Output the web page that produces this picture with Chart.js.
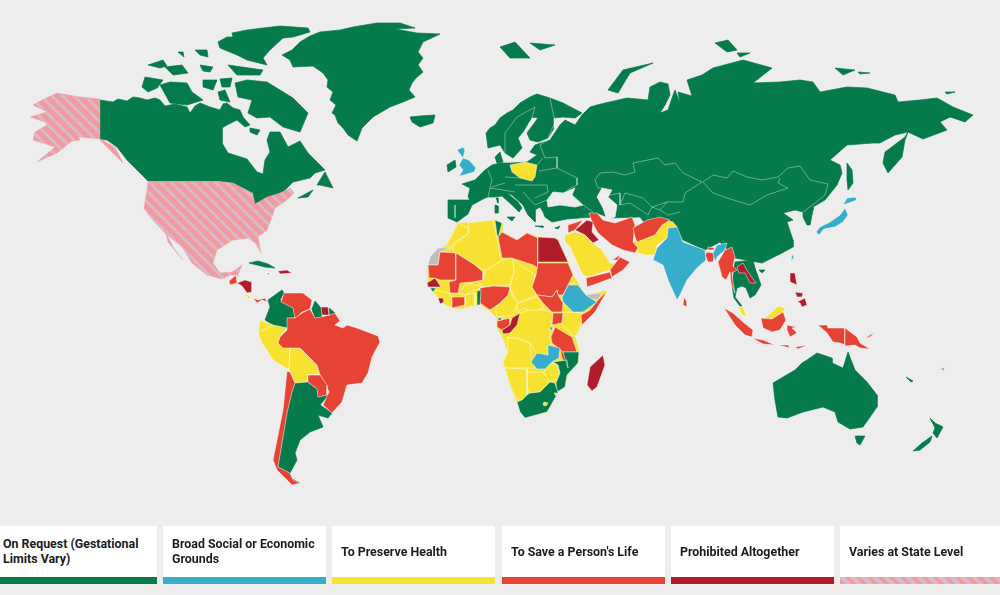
<!DOCTYPE html>
<html>
<head>
<meta charset="utf-8">
<title>Abortion laws map</title>
<script src="https://cdn.jsdelivr.net/npm/chart.js@4"></script>
<style>
    html, body { margin:0; padding:0; background:#ededed; }
    #wrap { position:relative; width:1000px; height:595px; overflow:hidden; }
    #map { position:absolute; left:0; top:0; }
    .key { position:absolute; top:526px; height:58px; background:#fff; display:flex; align-items:center; box-sizing:border-box; padding:0 4px 8px 9px;
           font:bold 12.4px/15px Roboto, sans-serif; color:#1c1c22; }
    .key i { position:absolute; left:0; right:0; bottom:0; height:7px; }
</style>
</head>
<body>
<div id="wrap"><canvas id="map" width="1000" height="595"></canvas></div>
<script>
// outlines as [x, y] map units
const greenland = [[282,55],[292,50],[300,42],[310,36],[320,32],[340,30],[353,27],[377,23],[400,23],[415,28],[395,29],[417,33],[440,34],[423,42],[418,52],[423,58],[418,65],[423,72],[416,78],[412,83],[409,90],[415,97],[403,102],[390,107],[373,117],[362,128],[357,141],[348,135],[343,128],[338,123],[335,115],[332,113],[336,105],[330,100],[333,92],[327,87],[328,80],[323,73],[313,66],[293,67],[290,60]];
const canada = [[100,100],[113,102],[118,99],[127,101],[133,97],[140,98],[147,100],[155,98],[160,100],[165,106],[175,104],[187,107],[190,113],[195,106],[200,103],[210,107],[220,110],[223,104],[227,103],[233,108],[240,110],[243,117],[250,125],[245,127],[237,120],[227,125],[222,128],[222,143],[228,153],[247,159],[257,172],[263,174],[265,160],[270,152],[267,140],[270,132],[280,132],[288,147],[300,141],[308,153],[325,170],[315,173],[310,178],[293,182],[283,192],[273,197],[255,204],[253,193],[233,183],[220,181],[148,181],[140,173],[127,160],[117,147],[107,140],[100,139]];
const newfoundland = [[317,185],[325,172],[333,188],[320,185]];
const novaScotia = [[298,198],[313,190],[308,197]];
const ellesmere = [[218,42],[227,37],[233,37],[232,33],[247,30],[263,28],[280,26],[308,28],[310,32],[293,37],[283,38],[270,50],[263,58],[267,65],[247,60],[237,55],[220,48]];
const devon = [[228,65],[263,70],[260,75],[237,75]];
const victoria = [[160,85],[170,82],[187,83],[192,92],[203,100],[187,105],[170,103]];
const banks = [[142,87],[145,77],[163,80],[157,88],[148,92]];
const melville = [[148,65],[163,60],[167,66],[160,68]];
const bathurst = [[165,67],[182,65],[188,73],[173,75]];
const cornwallis = [[200,65],[213,67],[210,72],[203,71]];
const ellefRingnes = [[195,50],[207,50],[208,57],[200,55]];
const amund = [[178,52],[183,52],[184,57]];
const somerset = [[203,80],[217,80],[213,90],[203,87]];
const boothia = [[220,79],[232,78],[230,87],[222,87]];
const kingWilliam = [[218,92],[225,90],[230,102],[220,100]];
const baffin = [[235,83],[247,80],[267,82],[280,90],[293,98],[308,113],[300,132],[283,127],[270,117],[257,118],[248,113],[252,100],[238,97]];
const southampton = [[250,128],[260,130],[257,135],[250,132]];
const iceland = [[410,117],[420,116],[435,115],[433,123],[420,127],[412,122]];
const eurasia = [[448,200],[470,200],[468,197],[470,188],[462,184],[475,180],[485,170],[492,165],[500,163],[512,163],[527,162],[537,155],[530,152],[535,145],[550,140],[560,125],[565,120],[575,125],[582,115],[590,107],[597,105],[605,103],[627,98],[648,100],[650,87],[660,82],[668,84],[670,95],[665,105],[660,113],[668,110],[672,98],[675,90],[680,103],[678,92],[692,96],[687,80],[702,75],[713,68],[743,60],[772,68],[753,83],[780,82],[800,80],[813,82],[820,92],[847,87],[867,88],[895,95],[898,102],[920,100],[937,98],[953,107],[973,115],[965,122],[950,117],[940,122],[947,130],[923,139],[908,132],[905,140],[902,157],[888,173],[883,163],[885,152],[905,137],[908,132],[895,135],[880,143],[873,143],[847,145],[830,160],[840,165],[842,173],[837,185],[825,200],[813,207],[813,210],[810,225],[807,225],[803,217],[803,212],[795,210],[783,213],[793,220],[787,222],[793,240],[793,247],[782,253],[762,263],[735,258],[720,242],[705,250],[683,240],[675,228],[650,230],[640,217],[610,218],[597,213],[592,217],[567,219],[552,222],[545,217],[543,212],[540,207],[535,210],[535,222],[528,215],[523,205],[512,195],[507,193],[518,202],[522,208],[519,212],[512,205],[502,196],[495,197],[488,197],[485,198],[472,205],[468,214],[457,222],[448,218]];
const scandinavia = [[486,133],[490,128],[495,125],[500,118],[507,113],[513,110],[520,103],[530,97],[537,94],[550,98],[563,103],[582,113],[575,118],[563,117],[553,118],[553,130],[548,138],[538,142],[530,140],[527,133],[538,118],[532,117],[523,132],[518,138],[522,148],[513,158],[505,153],[500,145],[488,148]];
const denmark = [[495,157],[500,152],[503,162],[497,163]];
const ireland = [[447,165],[455,160],[456,167],[448,172]];
const sicily = [[507,217],[515,217],[512,221]];
const sardinia = [[495,205],[498,206],[498,213],[495,213]];
const corsica = [[496,198],[498,198],[498,203]];
const crete = [[535,226],[543,226],[543,227.5]];
const cyprus = [[555,228],[560,226],[558,229]];
const svalbard = [[500,47],[515,42],[530,58],[510,58]];
const svalbardEast = [[530,43],[555,45],[540,50]];
const novaya = [[608,90],[623,70],[653,63],[630,73],[618,93]];
const sevZemlya = [[715,43],[728,40],[737,50],[727,52]];
const sevZemlyaSouth = [[737,53],[750,53],[740,57]];
const newSiberia = [[835,68],[855,70],[843,75]];
const newSiberiaEast = [[858,72],[870,73],[860,74]];
const wrangel = [[945,92],[955,92],[947,94]];
const sakhalin = [[847,163],[852,170],[853,183],[848,190],[847,180]];
const hainan = [[759,270],[765,270],[762,273]];
const indochina = [[735,262],[753,260],[755,268],[761,285],[755,295],[750,298],[746,288],[742,286],[737,288],[735,297],[742,306],[740,306],[734,298],[732,285]];
const australia = [[773,383],[795,370],[802,363],[807,360],[817,353],[832,358],[832,363],[843,368],[848,352],[855,370],[867,382],[877,395],[877,407],[863,427],[850,429],[838,422],[835,412],[823,407],[803,412],[787,418],[778,417],[775,400]];
const tasmania = [[855,436],[865,436],[860,445],[857,443]];
const nzNorth = [[930,418],[935,423],[943,427],[937,438],[933,433],[935,428]];
const nzSouth = [[932,436],[930,442],[920,450],[913,451],[922,443]];
const vanuatu = [[906,377],[913,381],[911,382]];
const cuba = [[249,263],[258,261],[268,264],[275,268],[265,267],[257,265]];
const colombia = [[282,290],[284,293],[280,300],[293,308],[295,317],[287,318],[287,328],[273,325],[265,320],[270,307],[268,300]];
const guyana = [[315,301],[321,308],[321,317],[315,318],[312,309]];
const frGuiana = [[329,308],[335,313],[330,316]];
const argentina = [[295,383],[307,382],[317,389],[318,397],[327,395],[330,393],[320,405],[318,415],[323,427],[310,432],[300,440],[295,453],[297,460],[290,473],[278,467],[287,413],[292,392]];
const uruguay = [[320,405],[332,413],[328,418],[318,415]];
const tierra = [[292,479],[300,483],[293,482]];
const tunisia = [[495,220],[502,223],[498,238],[497,235]];
const guineaBissau = [[430,288],[436,288],[433,292]];
const togo = [[477,291],[481,290],[480,305],[477,305]];
const eqGuinea = [[498,318],[502,318],[502,320],[498,320]];
const mozambique = [[563,352],[579,352],[578,363],[567,375],[565,387],[557,392],[556,383],[560,373],[558,365],[553,362],[567,360],[568,368]];
const southAfrica = [[517,402],[522,400],[527,395],[530,393],[540,392],[550,382],[555,383],[558,393],[547,412],[525,418],[520,412]];

const uk = [[457,150],[463,147],[465,150],[463,158],[469,160],[476,168],[474,172],[464,175],[459,176],[463,170],[459,165],[463,158]];
const india = [[668,228],[677,227],[683,242],[705,250],[706,260],[697,268],[687,280],[680,295],[677,300],[668,280],[663,265],[653,260],[657,248],[667,238]];
const neIndia = [[713,253],[717,245],[727,243],[725,250],[717,257],[715,262]];
const hokkaido = [[847,198],[855,197],[857,200],[843,205]];
const honshu = [[845,208],[848,215],[843,222],[835,227],[824,229],[819,235],[816,232],[820,227],[830,222],[840,215]];
const taiwan = [[792,254],[794,257],[791,262]];
const ethiopia = [[568,285],[578,285],[586,295],[592,299],[597,302],[583,312],[573,312],[563,302],[562,298]];
const zambia = [[548,345],[560,348],[559,358],[552,362],[545,369],[537,369],[531,362],[537,353],[548,355]];
const rwanda = [[550,327],[553,327],[553,330],[550,330]];
const belize = [[237,275],[239,275],[238,279]];
const fiji = [[941,369],[945,367],[943,371]];

const africaLand = [[458,223],[468,223],[495,220],[502,223],[502,232],[517,240],[527,233],[538,237],[555,238],[558,240],[568,262],[573,275],[585,295],[607,291],[598,305],[582,325],[575,337],[579,352],[578,363],[567,375],[565,387],[557,392],[547,412],[525,418],[517,402],[510,385],[505,368],[503,362],[508,352],[504,340],[497,327],[497,318],[490,311],[480,304],[465,308],[453,308],[445,305],[438,298],[432,290],[428,283],[428,265],[438,250],[447,245]];
const poland = [[510,165],[525,162],[537,165],[535,177],[532,181],[520,178],[512,172]];
const morocco = [[447,245],[458,223],[468,228],[469,233],[455,242],[452,247]];
const algeria = [[468,223],[493,220],[497,238],[500,258],[503,260],[485,271],[475,265],[455,253],[452,247],[469,233]];
const niger = [[485,271],[503,260],[513,258],[514,272],[510,285],[493,285],[483,287],[477,280],[483,280]];
const chad = [[513,260],[535,275],[535,282],[532,287],[537,295],[530,298],[517,303],[510,287],[514,272]];
const guinea = [[432,290],[450,293],[453,308],[445,305],[438,298]];
const burkina = [[458,293],[468,283],[483,287],[475,290],[465,295]];
const ghana = [[465,295],[475,293],[475,305],[465,308]];
const cameroon = [[510,287],[512,295],[518,303],[513,315],[497,317],[495,308],[505,298]];
const car = [[517,303],[537,297],[544,308],[532,312],[523,308],[518,313]];
const drc = [[520,313],[530,310],[545,310],[553,313],[552,325],[549,337],[551,343],[548,355],[537,355],[530,343],[517,338],[507,338],[512,332]];
const angola = [[507,338],[517,338],[530,343],[531,360],[537,368],[505,368],[503,362],[508,352]];
const kenya = [[563,312],[583,313],[580,327],[575,337],[562,325]];
const eritrea = [[570,277],[575,283],[568,284]];
const zimbabwe = [[545,369],[552,363],[558,365],[559,378],[550,382],[543,375]];
const botswana = [[527,372],[543,372],[550,382],[540,392],[530,393],[527,388]];
const namibia = [[505,368],[527,369],[527,395],[522,400],[517,400],[510,385]];
const lesotho = [[544,402],[548,403],[546,406],[543,405]];
const eswatini = [[554,393],[557,393],[556,396]];
const saudi = [[565,235],[575,232],[585,235],[593,243],[602,250],[610,263],[618,263],[610,270],[588,277],[583,275],[577,263],[570,247],[564,240]];
const pakistan = [[665,220],[673,222],[677,227],[668,228],[667,238],[657,245],[655,255],[645,255],[637,253],[638,248],[633,242],[655,235],[662,225]];
const ecuador = [[260,320],[273,325],[265,333],[258,333]];
const peru = [[273,325],[287,328],[280,337],[278,343],[290,348],[289,370],[273,360],[262,343],[258,333]];
const bolivia = [[290,348],[300,348],[317,365],[320,374],[308,375],[307,382],[295,383],[289,370]];
const costaRica = [[245,293],[252,298],[248,299]];
const puertoRico = [[295,273],[298,273],[298,275]];
const malaysia = [[738,307],[743,307],[747,317],[742,315]];
const sarawak = [[763,319],[772,312],[778,306],[786,308],[783,312],[772,319]];

const libya = [[498,237],[502,232],[517,240],[527,233],[538,238],[538,268],[533,265],[512,258],[502,258]];
const mauritania = [[428,265],[438,265],[440,252],[456,253],[456,280],[450,280],[440,280],[435,278],[429,278]];
const mali = [[456,253],[475,265],[483,272],[483,280],[472,282],[460,283],[458,293],[450,293],[449,282],[456,280]];
const sudan = [[538,263],[568,263],[573,275],[568,285],[563,295],[558,295],[557,290],[552,297],[537,295],[532,287],[536,275]];
const southSudan = [[537,295],[552,297],[557,290],[558,295],[563,303],[562,312],[552,312],[543,303]];
const coteDivoire = [[452,297],[465,297],[465,305],[452,308]];
const nigeria = [[480,288],[493,286],[510,287],[508,295],[500,303],[490,310],[480,303]];
const gabon = [[497,321],[510,318],[510,325],[502,330],[497,327]];
const malawi = [[560,348],[567,358],[567,367],[562,358]];
const tanzania = [[551,337],[555,327],[572,337],[577,352],[563,352],[552,343]];
const uganda = [[553,313],[563,313],[562,323],[552,325]];
const somalia = [[607,291],[595,312],[582,325],[581,315],[590,310],[598,300]];
const syria = [[568,225],[583,220],[575,230],[568,233]];
const iran = [[589,213],[597,213],[603,220],[615,223],[632,217],[635,225],[633,242],[638,248],[635,253],[623,250],[612,245],[598,233],[592,222]];
const afghanistan = [[633,228],[647,220],[660,217],[670,220],[662,225],[655,235],[637,242],[635,237]];
const bangladesh = [[707,252],[715,253],[713,262],[708,262],[705,255]];
const bhutan = [[708,247],[715,248],[713,250],[708,250]];
const sriLanka = [[684,297],[687,302],[687,307],[683,305]];
const yemen = [[586,278],[610,272],[612,278],[593,285],[587,287]];
const oman = [[610,270],[620,257],[630,262],[623,270],[612,277]];
const uae = [[612,260],[620,255],[618,260]];
const myanmar = [[718,262],[725,250],[732,247],[735,257],[733,266],[737,270],[732,273],[733,282],[735,293],[731,283],[730,272],[726,280],[722,277]];
const sumatra = [[724,308],[733,313],[743,322],[753,330],[752,337],[745,335],[735,325]];
const kalimantan = [[761,318],[772,319],[783,312],[786,320],[780,330],[772,332],[763,328]];
const sulawesi = [[787,325],[797,327],[792,328],[797,333],[790,337],[787,330]];
const java = [[752,338],[763,340],[775,345],[763,344]];
const sunda = [[778,345],[788,345],[790,348]];
const timor = [[795,347],[808,345],[798,349]];
const westPapua = [[818,325],[827,325],[828,328],[845,328],[845,345],[840,343],[833,342],[827,333]];
const png = [[845,328],[857,337],[860,343],[870,349],[860,348],[855,345],[845,346]];
const newBritain = [[865,338],[875,332],[870,337]];
const venezuela = [[284,293],[290,293],[303,293],[312,300],[310,309],[302,312],[295,319],[293,308],[281,302]];
const brazil = [[287,318],[295,318],[302,313],[310,309],[315,318],[321,317],[330,315],[335,313],[340,321],[335,325],[343,328],[347,325],[357,328],[378,336],[380,342],[372,357],[368,373],[362,383],[347,385],[342,402],[332,413],[323,405],[329,392],[325,383],[320,375],[317,365],[300,348],[290,348],[283,348],[278,343],[280,337],[287,330]];
const paraguay = [[308,375],[320,375],[327,385],[327,395],[318,397],[317,389],[308,382]];
const chile = [[287,371],[290,372],[295,383],[292,392],[287,413],[278,467],[290,473],[293,480],[300,483],[292,485],[277,470],[273,460],[277,440],[283,410]];
const guatemala = [[229,281],[236,275],[237,283],[230,285]];
const panama = [[253,298],[258,300],[265,298],[267,302],[262,300],[257,303]];
const jamaica = [[266,273],[270,273],[270,275]];

const egypt = [[538,237],[555,238],[558,240],[568,262],[538,262]];
const iraq = [[575,230],[587,220],[593,222],[592,232],[599,240],[593,243],[585,235]];
const senegal = [[427,283],[435,278],[441,287],[428,287]];
const sierraLeone = [[438,298],[443,298],[444,302],[440,304]];
const congo = [[520,313],[517,325],[510,333],[503,334],[502,330],[510,325],[512,318]];
const madagascar = [[603,355],[605,365],[597,387],[592,391],[587,385],[590,367]];
const honduras = [[237,283],[245,280],[252,282],[252,292],[247,293],[242,286]];
const hispaniola = [[278,271],[287,270],[292,273],[280,274]];
const suriname = [[321,307],[328,307],[329,315],[322,315]];
const laos = [[737,267],[743,263],[748,272],[756,283],[750,283],[745,273],[739,273]];
const luzon = [[790,273],[795,273],[796,280],[797,285],[790,282]];
const visayas = [[795,292],[803,293],[802,297],[797,297]];
const mindanao = [[797,302],[805,298],[807,305],[802,307],[800,303]];

const alaska = [[100,99],[80,97],[57,93],[42,100],[33,105],[47,112],[30,117],[45,122],[47,125],[35,132],[33,140],[55,147],[37,162],[57,153],[72,141],[80,140],[78,137],[100,139],[115,147],[123,163],[117,157],[107,147],[100,140]];
const usa = [[148,182],[220,182],[233,183],[252,193],[255,204],[267,197],[280,193],[290,188],[294,193],[287,200],[275,208],[272,217],[267,230],[258,237],[261,253],[255,243],[248,238],[233,240],[217,250],[208,243],[197,237],[177,237],[165,233],[150,217],[144,208],[147,190]];
const mexico = [[165,233],[177,237],[197,237],[208,243],[217,250],[213,263],[220,273],[232,272],[242,265],[238,275],[230,275],[222,279],[207,275],[192,263],[182,247],[167,235]];
const baja = [[166,233],[173,247],[183,260],[177,253],[168,242]];

const westSahara = [[428,265],[430,257],[438,248],[450,248],[440,252],[438,265]];
const somaliland = [[585,295],[602,293],[598,300],[592,299]];

const caspian = [[597,197],[602,188],[612,190],[608,197],[617,205],[615,217],[607,220],[603,208]];
const blackSea = [[547,200],[553,192],[563,193],[575,188],[572,195],[583,205],[575,207],[560,205],[548,207]];

// thin borders between the green countries
const kazNorth = [[595,180],[600,173],[613,172],[625,175],[635,172],[633,163],[658,158],[665,165],[675,163],[683,173],[702,182]];
const kazSouth = [[595,180],[598,188],[603,188],[600,197],[620,193],[620,205],[625,193],[643,198],[652,207],[667,202],[683,202],[685,193],[702,182]];
const mongoliaNorth = [[703,182],[713,175],[727,178],[733,171],[747,177],[762,180],[778,177],[788,168],[800,166],[810,180],[828,184],[825,195],[815,203],[803,212]];
const mongoliaSouth = [[703,182],[713,193],[727,198],[750,205],[767,195],[788,188],[778,183],[780,178]];
const turkmen = [[620,205],[630,203],[648,215],[652,207],[660,210],[667,202]];
const tajik = [[660,210],[668,215],[680,212]];
const norwaySweden = [[505,153],[505,133],[517,117],[535,107]];
const swedenFinland = [[532,117],[535,107]];
const finlandRussia = [[550,98],[555,122],[548,138]];
const russiaWest = [[548,140],[540,145],[545,158],[557,157],[557,168],[577,178],[577,185],[567,190]];
const belarus = [[537,165],[543,158]];
const belarusSouth = [[539,171],[557,168]];
const franceGermany = [[488,170],[492,180],[490,188],[488,197]];
const pyrenees = [[453,198],[468,198]];
const portugal = [[455,205],[455,218]];
const germanySouth = [[505,177],[520,178]];
const alps = [[490,188],[515,192]];
const austria = [[492,187],[505,183]];
const balkansNorth = [[515,185],[547,185],[548,192],[535,198]];
const balkansWest = [[523,192],[535,205]];
const balkansEast = [[547,200],[535,205]];
const turkeyEast = [[583,205],[593,212]];

// legend
const legendLabels = ['On Request (Gestational Limits Vary)', 'Broad Social or Economic Grounds', 'To Preserve Health', "To Save a Person's Life", 'Prohibited Altogether', 'Varies at State Level'];
const legendLefts = [-6, 163, 332, 502, 671, 840];
const legendWidths = [163, 163, 163, 163, 163, 163];

const onRequest = [greenland, canada, newfoundland, novaScotia, ellesmere, devon, victoria, banks, melville, bathurst, cornwallis, ellefRingnes, amund, somerset, boothia, kingWilliam, baffin, southampton, iceland, eurasia, scandinavia, denmark, ireland, sicily, sardinia, corsica, crete, cyprus, svalbard, svalbardEast, novaya, sevZemlya, sevZemlyaSouth, newSiberia, newSiberiaEast, wrangel, sakhalin, hainan, indochina, australia, tasmania, nzNorth, nzSouth, vanuatu, cuba, colombia, guyana, frGuiana, argentina, uruguay, tierra];
const onRequestTop = [tunisia, guineaBissau, togo, eqGuinea, mozambique, southAfrica];
const broadGrounds = [uk, india, neIndia, hokkaido, honshu, taiwan, ethiopia, zambia, rwanda, belize, fiji];
const preserveHealth = [africaLand, poland, morocco, algeria, niger, chad, guinea, burkina, ghana, cameroon, car, drc, angola, kenya, eritrea, zimbabwe, botswana, namibia, saudi, pakistan, ecuador, peru, bolivia, costaRica, puertoRico, malaysia, sarawak];
const preserveHealthTop = [lesotho, eswatini];
const saveLife = [libya, mauritania, mali, sudan, southSudan, coteDivoire, nigeria, gabon, malawi, tanzania, uganda, somalia, syria, iran, afghanistan, bangladesh, bhutan, sriLanka, yemen, oman, uae, myanmar, sumatra, kalimantan, sulawesi, java, sunda, timor, westPapua, png, newBritain, venezuela, brazil, paraguay, chile, guatemala, panama, jamaica];
const prohibited = [egypt, iraq, senegal, sierraLeone, congo, madagascar, honduras, hispaniola, suriname, laos, luzon, visayas, mindanao];
const stateLevel = [alaska, usa, mexico, baja];
const noData = [westSahara, somaliland];
const waters = [caspian, blackSea];
const greenBorders = [kazNorth, kazSouth, mongoliaNorth, mongoliaSouth, turkmen, tajik, norwaySweden, swedenFinland, finlandRussia, russiaWest, belarus, belarusSouth, franceGermany, pyrenees, portugal, germanySouth, alps, austria, balkansNorth, balkansWest, balkansEast, turkeyEast];

const GREEN = '#057a4b', BLUE = '#36aecb', YELLOW = '#f7e131', RED = '#e64334', DARK = '#b01c2a', GREY = '#bdbdbd', SEA = '#ededed';

function hatchPattern(){
    const size = 11;
    const c = document.createElement('canvas');
    c.width = size; c.height = size;
    const g = c.getContext('2d');
    g.fillStyle = '#f29a9e';
    g.fillRect(0,0,size,size);
    g.strokeStyle = '#d4bccd';
    g.lineWidth = 3;
    [-size, 0, size].forEach(d => { g.beginPath(); g.moveTo(d,0); g.lineTo(d+size,size); g.stroke(); });
    return g.createPattern(c, 'repeat');
}

function shape(points, color, edge){
    const closed = points.concat([points[0]]);
    return {
        data: closed.map(p => ({x:p[0], y:p[1]})),
        showLine: true, fill: 'shape', backgroundColor: color,
        borderColor: edge, borderWidth: 0.7, pointRadius: 0, tension: 0
    };
}
function line(points){
    return {
        data: points.map(p => ({x:p[0], y:p[1]})),
        showLine: true, fill: false, borderColor: 'rgba(255,255,255,.55)', borderWidth: 0.7, pointRadius: 0, tension: 0
    };
}

function init(){
    const hatch = hatchPattern();
    const edge = 'rgba(255,255,255,.7)';
    let sets = [];
    onRequest.forEach(p => sets.push(shape(p, GREEN, GREEN)));
    waters.forEach(p => sets.push(shape(p, SEA, SEA)));
    greenBorders.forEach(p => sets.push(line(p)));
    stateLevel.forEach(p => sets.push(shape(p, hatch, 'rgba(240,154,159,.6)')));
    preserveHealth.forEach((p,i) => sets.push(shape(p, YELLOW, i === 0 ? YELLOW : edge)));
    noData.forEach(p => sets.push(shape(p, GREY, edge)));
    saveLife.forEach(p => sets.push(shape(p, RED, edge)));
    prohibited.forEach(p => sets.push(shape(p, DARK, edge)));
    broadGrounds.forEach(p => sets.push(shape(p, BLUE, edge)));
    onRequestTop.forEach(p => sets.push(shape(p, GREEN, edge)));
    preserveHealthTop.forEach(p => sets.push(shape(p, YELLOW, edge)));
    // chart.js paints the first dataset last
    sets.reverse();

    new Chart(document.getElementById('map'), {
        type: 'scatter',
        data: { datasets: sets },
        options: {
            responsive: false, animation: false, events: [],
            layout: { padding: 0 },
            plugins: { legend: {display:false}, tooltip: {enabled:false} },
            scales: {
                x: { type:'linear', min:0, max:1000, display:false },
                y: { type:'linear', min:0, max:595, reverse:true, display:false }
            }
        }
    });

    const keyColors = [GREEN, BLUE, YELLOW, RED, DARK, 'repeating-linear-gradient(45deg,#f29a9e 0 4px,#d4bccd 4px 7.8px)'];
    const wrap = document.getElementById('wrap');
    legendLabels.forEach((t,i) => {
        const d = document.createElement('div');
        d.className = 'key';
        d.style.left = legendLefts[i] + 'px';
        d.style.width = legendWidths[i] + 'px';
        d.innerHTML = `<span>${t}</span><i style="background:${keyColors[i]}"></i>`;
        wrap.appendChild(d);
    });
}
init();
</script>
</body>
</html>
